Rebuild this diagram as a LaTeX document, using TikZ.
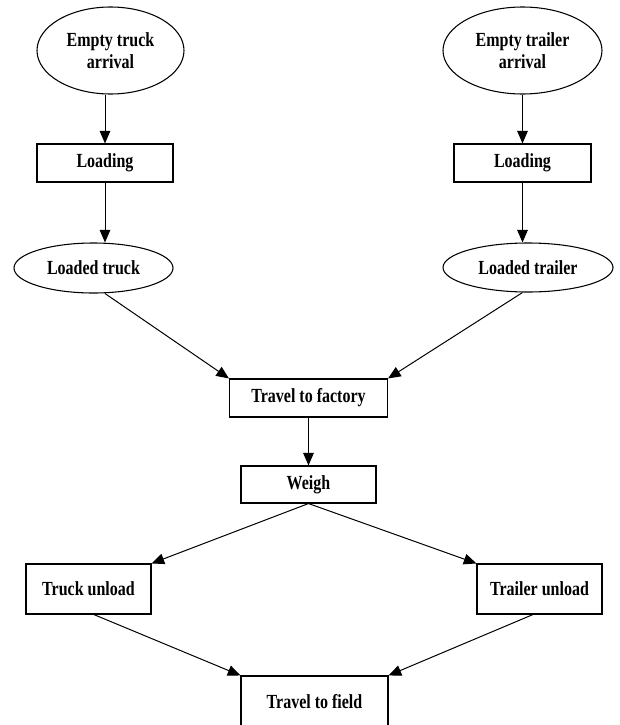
\documentclass[tikz,border=0pt]{standalone}
\usepackage{fontspec}
\setmainfont{Liberation Serif}[FakeStretch=0.8]
\usetikzlibrary{shapes.geometric,arrows.meta,calc}
\begin{document}
\begin{tikzpicture}[x=0.75pt,y=-0.75pt,
  every node/.style={font=\fontsize{15}{16.5}\selectfont\bfseries, align=center, inner sep=0pt},
  ell/.style={ellipse, draw, line width=0.8pt},
  boxnode/.style={rectangle, draw, line width=0.8pt},
  arr/.style={line width=0.75pt, -{Triangle[length=9.5pt,width=8pt]}}]
\useasboundingbox (0,0) rectangle (619,725);
\node[ell, minimum width=147*0.75pt, minimum height=87*0.75pt] (e1) at (110.5,50.5) {Empty truck\\arrival};
\node[ell, minimum width=159*0.75pt, minimum height=87*0.75pt] (e2) at (522.5,50.5) {Empty trailer\\arrival};
\node[boxnode, minimum width=136*0.75pt, minimum height=38*0.75pt] (l1) at (105,163) {Loading};
\node[boxnode, minimum width=137*0.75pt, minimum height=38*0.75pt] (l2) at (522.5,163) {Loading};
\node[ell, minimum width=159*0.75pt, minimum height=50*0.75pt] (lt) at (93.5,268) {Loaded truck};
\node[ell, minimum width=170*0.75pt, minimum height=49*0.75pt] (ltr) at (528,267.5) {Loaded trailer};
\node[boxnode, minimum width=158*0.75pt, minimum height=38*0.75pt] (tf) at (308.5,398) {Travel to factory};
\node[boxnode, minimum width=135*0.75pt, minimum height=37*0.75pt] (w) at (308.5,484.5) {Weigh};
\node[boxnode, minimum width=125*0.75pt, minimum height=50*0.75pt] (tu) at (88.5,589) {Truck unload};
\node[boxnode, minimum width=125*0.75pt, minimum height=50*0.75pt] (tru) at (539.5,589) {Trailer unload};
\node[boxnode, minimum width=147*0.75pt, minimum height=50*0.75pt, text depth=0pt] (tfl) at (314.5,701) {Travel to field};
\draw[arr] (l1.north |- e1.south) -- (l1.north);
\draw[arr] (l1.south) -- (l1.south |- lt.north);
\draw[arr] (e2.south) -- (l2.north);
\draw[arr] (l2.south) -- (l2.south |- ltr.north);
\draw[arr] (l1.south |- lt.south) -- (tf.north west);
\draw[arr] (l2.south |- ltr.south) -- (tf.north east);
\draw[arr] (tf.south) -- (w.north);
\draw[arr] (w.south) -- (tu.north east);
\draw[arr] (w.south) -- (tru.north west);
\draw[arr] ([xshift=4pt]tu.south) -- (tfl.north west);
\draw[arr] ([xshift=-4.9pt]tru.south) -- (tfl.north east);
\end{tikzpicture}
\end{document}
